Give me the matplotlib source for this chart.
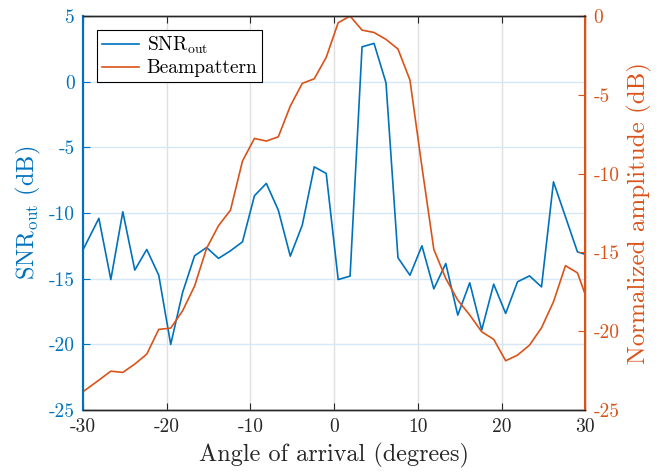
#!/usr/bin/env python
# coding: utf-8

import matplotlib
matplotlib.use('Agg')
import matplotlib.pyplot as plt

###############################################
# Data
###############################################
# angle samples; the first and last lie just outside the x-limits
angles = [-30.95, -29.52, -28.10, -26.67, -25.24, -23.81, -22.38, -20.95,
		  -19.52, -18.10, -16.67, -15.24, -13.81, -12.38, -10.95, -9.52,
		  -8.10, -6.67, -5.24, -3.81, -2.38, -0.95, 0.48, 1.90, 3.33, 4.76,
		  6.19, 7.62, 9.05, 10.48, 11.90, 13.33, 14.76, 16.19, 17.62, 19.05,
		  20.48, 21.90, 23.33, 24.76, 26.19, 27.62, 29.05, 30.48]

snr_out = [-14.0, -12.2, -10.4, -15.06, -9.9, -14.34, -12.77, -14.73,
		   -20.0, -16.04, -13.25, -12.62, -13.45, -12.87, -12.19, -8.68,
		   -7.74, -9.78, -13.28, -10.92, -6.48, -6.98, -15.06, -14.8,
		   2.66, 2.92, -0.08, -13.4, -14.73, -12.49, -15.77, -13.84,
		   -17.77, -15.31, -18.91, -15.41, -17.64, -15.23, -14.78, -15.62,
		   -7.62, -10.28, -12.95, -13.25]

beampattern = [-24.2, -23.65, -23.1, -22.53, -22.61, -22.08, -21.45, -19.88,
			   -19.8, -18.7, -17.13, -14.74, -13.3, -12.31, -9.2, -7.76,
			   -7.93, -7.66, -5.71, -4.27, -3.98, -2.62, -0.42, 0.0,
			   -0.89, -1.04, -1.48, -2.09, -4.06, -9.56, -14.8, -16.65,
			   -18.02, -18.97, -20.03, -20.51, -21.87, -21.51, -20.88, -19.78,
			   -18.13, -15.84, -16.29, -18.4]

x_ticks = [-30, -20, -10, 0, 10, 20, 30]
left_ticks = [-25, -20, -15, -10, -5, 0, 5]
right_ticks = [-25, -20, -15, -10, -5, 0]

blue = (0.0, 0.447, 0.741)
orange = (0.85, 0.325, 0.098)
dark = (0.15, 0.15, 0.15)

###############################################
# Plot
###############################################
plt.rcParams['font.family'] = 'serif'
plt.rcParams['font.serif'] = ['cmr10', 'DejaVu Serif']
plt.rcParams['mathtext.fontset'] = 'cm'
plt.rcParams['axes.unicode_minus'] = False
plt.rcParams['axes.formatter.use_mathtext'] = False


def plot_snr():
	fig = plt.figure(figsize=(6.69, 4.73), dpi=100)
	ax = fig.add_axes([0.124, 0.133, 0.751, 0.833])
	ax2 = ax.twinx()

	l1, = ax.plot(angles, snr_out, color=blue, lw=1.2, label=r'SNR$_{\rm out}$')
	l2, = ax2.plot(angles, beampattern, color=orange, lw=1.2, label='Beampattern')

	ax.set_xlim(-30, 30)
	ax.set_ylim(-25, 5)
	ax2.set_ylim(-25, 0)
	ax.set_xticks(x_ticks)
	ax.set_yticks(left_ticks)
	ax2.set_yticks(right_ticks)

	# MATLAB-like grid: grey vertical, bluish horizontal
	ax.xaxis.grid(True, color=(0.88, 0.88, 0.88), lw=1.0)
	ax.yaxis.grid(True, color=(0.84, 0.91, 0.96), lw=1.0)
	ax.set_axisbelow(True)

	ax.tick_params(axis='x', direction='in', top=True, length=5, width=0.8,
				   labelsize=14, colors=dark, pad=6)
	ax.tick_params(axis='y', direction='in', left=True, right=False, length=5,
				   width=0.8, labelsize=14, colors=blue, pad=6)
	ax2.tick_params(axis='y', direction='in', length=5, width=0.8,
					labelsize=14, colors=orange, pad=6)

	for a in (ax, ax2):
		a.spines['top'].set_color(dark)
		a.spines['bottom'].set_color(dark)
		a.spines['left'].set_color(blue)
		a.spines['right'].set_color(orange)
		for s in a.spines.values():
			s.set_linewidth(1.0)
	ax.spines['left'].set_linewidth(1.5)
	ax2.spines['right'].set_linewidth(1.5)
	ax2.spines['left'].set_linewidth(1.5)

	ax.set_xlabel('Angle of arrival (degrees)', fontsize=17.5, color=dark, labelpad=5)
	ax.set_ylabel(r'SNR$_{\rm out}$ (dB)', fontsize=17.5, color=blue, labelpad=4)
	ax2.set_ylabel('Normalized amplitude (dB)', fontsize=18, color=orange, labelpad=5)

	leg = ax2.legend(handles=[l1, l2], loc='upper left',
					 bbox_to_anchor=(0.028, 0.964), borderaxespad=0,
					 fontsize=14, fancybox=False, framealpha=1,
					 edgecolor='black', handlelength=1.9, handletextpad=0.4,
					 borderpad=0.25, labelspacing=0.15)
	leg.get_frame().set_linewidth(0.8)

	plt.savefig('out.png', dpi=100)


def main():
	plot_snr()


if __name__ == '__main__':
	main()
